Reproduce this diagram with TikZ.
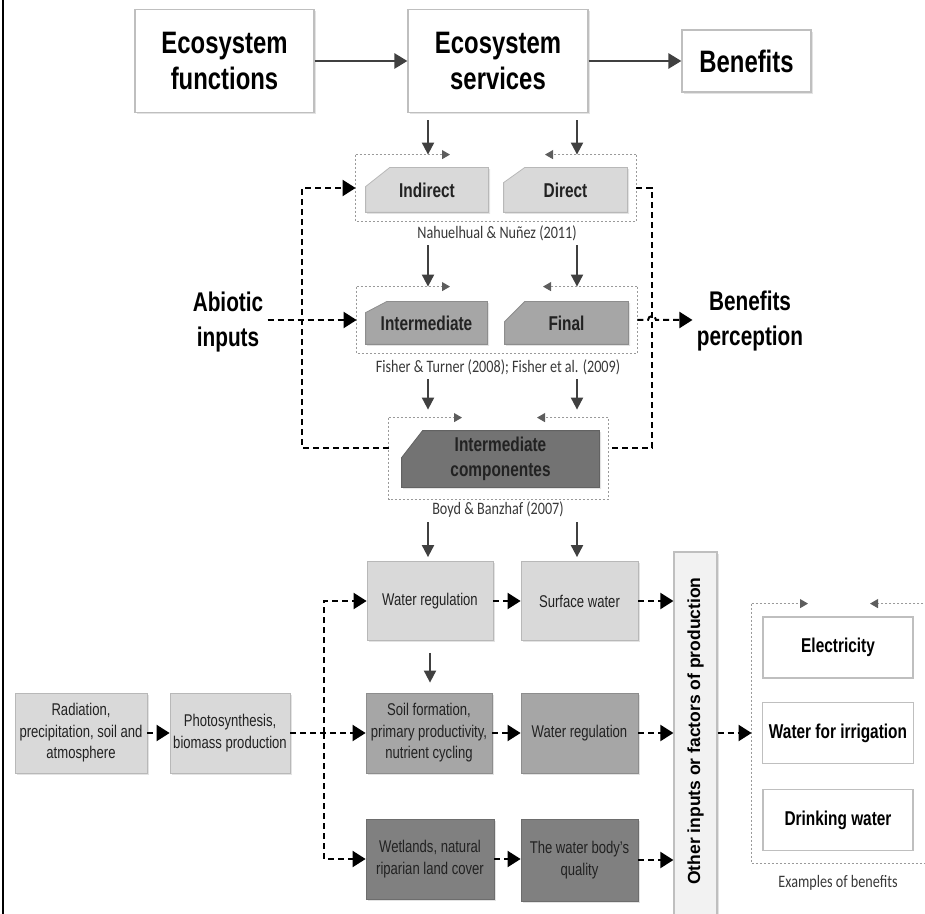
\documentclass[tikz,border=0pt]{standalone}
\usepackage{fontspec}
\setmainfont[FakeStretch=0.77]{Liberation Sans}
\newfontfamily\plainsans{Liberation Sans}
\newfontfamily\citefont[FakeStretch=0.81]{Carlito}
\usetikzlibrary{arrows.meta,calc,backgrounds,shadows}
\definecolor{boxedge}{HTML}{BFBFBF}
\definecolor{lightfill}{HTML}{D9D9D9}
\definecolor{midfill}{HTML}{A6A6A6}
\definecolor{darkfill}{HTML}{808080}
\definecolor{compfill}{HTML}{737373}
\definecolor{arrowgray}{HTML}{404040}
\definecolor{dotgray}{HTML}{9A9A9A}
\definecolor{inkgray}{HTML}{222222}
\newcommand\tabfill[4]{%
  \filldraw[fill=#2,draw=#2!85!black,line width=0.4pt,softshadow]
    ($(#1.north west)+(0,#4)$) -- ($(#1.north west)+(#3,0)$) -- (#1.north east)
    -- (#1.south east) -- (#1.south west) -- cycle;}
\newcommand\grpframe[3]{%
  \draw[grpline] (#1.north west) |- (#1.south east) -- (#1.north east);
  \draw[grpline,grptip] (#1.north west) -- (#2,0 |- #1.north);
  \draw[grpline,grptip] (#1.north east) -- (#3,0 |- #1.north);}
\tikzset{
  boxsize/.style 2 args={minimum width=#1*0.5pt,minimum height=#2*0.5pt},
  softshadow/.style={drop shadow={shadow xshift=0.8pt,shadow yshift=-0.8pt,opacity=0.22}},
  headbox/.style={draw=boxedge,fill=white,line width=0.6pt,softshadow,inner sep=0pt,
    align=center,font=\fontsize{15.5}{18}\selectfont\bfseries},
  headlabel/.style={inner sep=2pt,align=center,font=\fontsize{13.5}{17.5}\selectfont\bfseries},
  tablabel/.style={inner sep=0pt,align=center,text=inkgray,font=\fontsize{10}{12.5}\selectfont\bfseries},
  cite/.style={inner sep=1pt,text=inkgray!90,font=\citefont\fontsize{8.75}{10}\selectfont},
  grp/.style={inner sep=0pt},
  grpline/.style={draw=dotgray,line width=0.5pt,dash pattern=on 1pt off 1pt},
  grptip/.style={-{Triangle[length=4pt,width=4.5pt,color=arrowgray!85]}},
  smallbox/.style={draw=#1!85!black,fill=#1,line width=0.4pt,softshadow,inner sep=1pt,
    align=center,text=inkgray,font=\fontsize{8.5}{10.75}\selectfont},
  benbox/.style={draw=boxedge,fill=white,line width=0.6pt,boxsize={150}{61},
    align=center,font=\fontsize{10}{12}\selectfont\bfseries},
  toparrow/.style={draw=arrowgray,line width=1.3pt,-{Triangle[length=6.5pt,width=7.5pt]}},
  downarrow/.style={draw=arrowgray,line width=1pt,-{Triangle[length=6pt,width=6pt]}},
  dashline/.style={draw=black,line width=1pt,dash pattern=on 3pt off 2pt},
  dasharrow/.style={dashline,-{Triangle[length=6.5pt,width=8pt]}},
}
\begin{document}
\begin{tikzpicture}[x=0.5pt,y=-0.5pt]
\useasboundingbox (0,0) rectangle (925,914);
\clip (0,0) rectangle (925,914);
\draw[line width=1.1pt] (3,0) -- (3,914);

\node[headbox,boxsize={179}{103}] (func) at (224.5,61) {Ecosystem\\functions};
\node[headbox,boxsize={180}{103}] (serv) at (498,61) {Ecosystem\\services};
\node[headbox,boxsize={129}{62}] (bene) at (746.5,61) {Benefits};
\draw[toparrow] (func) -- (serv);
\draw[toparrow] (serv) -- (bene);

\node[grp,boxsize={280}{66}] (grpA) at (496,188) {};
\node[tablabel,boxsize={122}{44}] (indirect) at (427,190) {Indirect};
\node[tablabel,boxsize={123}{44}] (direct) at (565.5,190) {Direct};
\node[cite] (citeA) at (497,233) {Nahuelhual \& Nuñez (2011)};

\node[grp,boxsize={280}{66}] (grpB) at (497,320) {};
\node[tablabel,boxsize={121}{42}] (inter) at (426.5,323) {Intermediate};
\node[tablabel,boxsize={123}{42}] (final) at (566.5,323) {Final};
\node[cite] (citeB) at (498,367) {Fisher \& Turner (2008); Fisher et al. (2009)};

\node[grp,boxsize={219}{81}] (grpC) at (498.5,458.5) {};
\node[tablabel,boxsize={197}{56}] (comp) at (500.5,459) {Intermediate\\componentes};
\node[cite] (citeC) at (498,510) {Boyd \& Banzhaf (2007)};

\node[headlabel] (abiotic) at (228,322) {Abiotic\\inputs};
\node[headlabel] (percep) at (750,321) {Benefits\\perception};

\node[smallbox=lightfill,boxsize={126}{79}] (wreg1) at (430,601) {Water regulation};
\node[smallbox=lightfill,boxsize={117}{79}] (surf) at (579.5,601) {Surface water};
\node[smallbox=midfill,boxsize={126}{80}] (soil) at (429,733) {Soil formation,\\primary productivity,\\nutrient cycling};
\node[smallbox=midfill,boxsize={117}{80}] (wreg2) at (579.5,733) {Water regulation};
\node[smallbox=darkfill,boxsize={128}{80}] (wet) at (430,859) {Wetlands, natural\\riparian land cover};
\node[smallbox=darkfill,boxsize={117}{82}] (quality) at (579.5,860) {The water body's\\quality};
\node[smallbox=lightfill,boxsize={132}{80}] (rad) at (81,733) {Radiation,\\precipitation, soil and\\atmosphere};
\node[smallbox=lightfill,boxsize={120}{80}] (photo) at (230,733) {Photosynthesis,\\biomass production};
\node[draw=boxedge,fill=black!5,line width=0.6pt,softshadow,boxsize={43}{380}] (other) at (695.5,742) {};
\node[rotate=90,font=\plainsans\bfseries\fontsize{8.75}{10}\selectfont] (otherlabel) at (695.5,731)
  {Other inputs or factors of production};

\node[grp,boxsize={183}{259}] (grpD) at (843.5,733.5) {};
\node[benbox] (elec) at (838,647.5) {Electricity};
\node[benbox] (irrig) at (838,733) {Water for irrigation};
\node[benbox] (drink) at (838,820) {Drinking water};
\node[cite] (examples) at (838,883) {Examples of benefits};

\begin{pgfonlayer}{background}
  \tabfill{indirect}{lightfill}{24}{19}
  \tabfill{direct}{lightfill}{21}{15}
  \tabfill{inter}{midfill}{21}{11}
  \tabfill{final}{midfill}{20}{20}
  \tabfill{comp}{compfill}{21}{27}
  \grpframe{grpA}{450}{545}
  \grpframe{grpB}{450}{543}
  \grpframe{grpC}{462}{537}
  \grpframe{grpD}{808}{870}
\end{pgfonlayer}

\coordinate (colL) at (428,0);
\coordinate (colR) at (577,0);
\foreach \c in {colL,colR}{
  \draw[downarrow,shorten <=3.5pt] (serv.south -| \c) -- (grpA.north -| \c);
  \draw[downarrow,shorten <=1pt] (citeA.south -| \c) -- (grpB.north -| \c);
  \draw[downarrow,shorten <=1pt,shorten >=4pt] (citeB.south -| \c) -- (grpC.north -| \c);
  \draw[downarrow,shorten <=1pt,shorten >=2pt] (citeC.south -| \c) -- (wreg1.north -| \c);
}
\draw[downarrow,shorten <=6pt,shorten >=5pt] (wreg1.south) -- (wreg1.south |- soil.north);

\coordinate (loopL) at (302,188);
\coordinate (loopR) at (652,188);
\coordinate (yC) at (0,448);
\draw[dasharrow] (grpC.west |- yC) -| (loopL) -- (grpA.west);
\draw[dashline] (grpA.east) -- (loopR) |- (grpC.east |- yC);
\draw[dasharrow] (abiotic.east |- grpB.west) -- (grpB.west);
\draw[dasharrow] (grpB.east) -- ($(loopR |- grpB.east)+(-4,0)$)
  arc[start angle=180,end angle=360,radius=4] -- (percep.west |- grpB.east);

\coordinate (split) at (324,733);
\draw[dasharrow] (rad) -- (photo);
\draw[dasharrow] (photo) -- (soil);
\draw[dasharrow] (split) |- (wreg1.west);
\draw[dasharrow] (split) |- (wet.west);
\draw[dasharrow] (wreg1) -- (surf);
\draw[dasharrow] (soil) -- (wreg2);
\draw[dasharrow] (wet.east) -- (wet.east -| quality.west);
\foreach \b in {surf,wreg2,quality}
  \draw[dasharrow] (\b.east) -- (\b.east -| other.west);
\draw[dasharrow] (other.east |- irrig) -- (grpD.west |- irrig);
\end{tikzpicture}
\end{document}
